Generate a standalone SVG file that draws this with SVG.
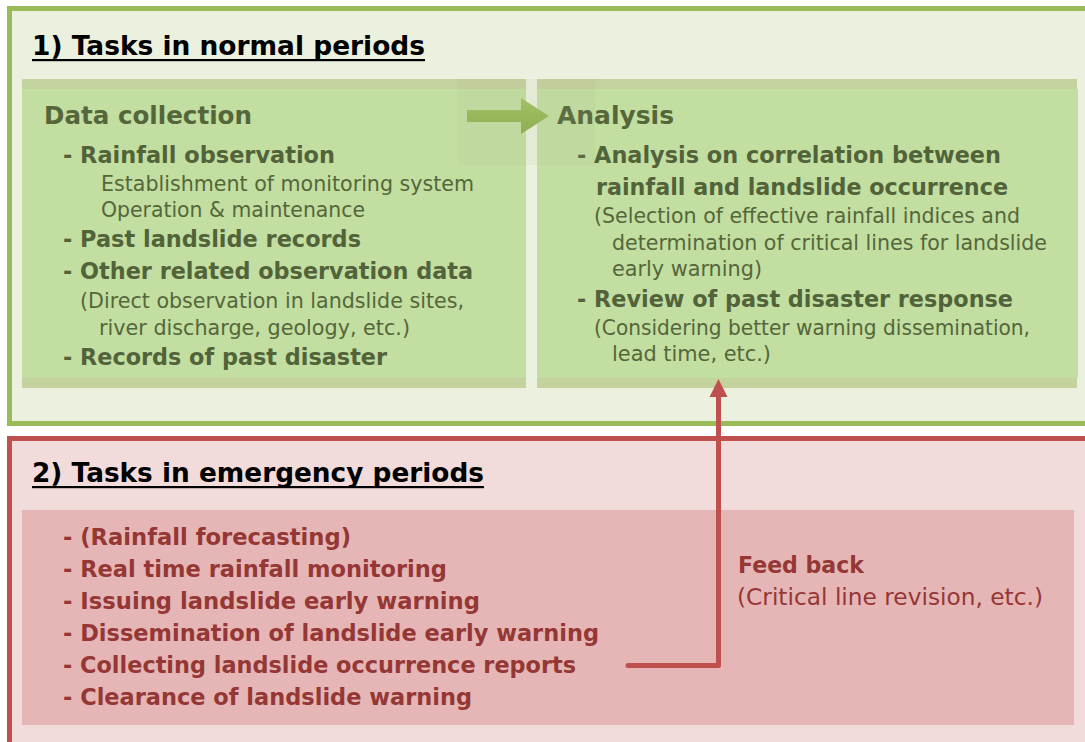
<svg xmlns="http://www.w3.org/2000/svg" width="1085" height="742" viewBox="0 0 1085 742">
  <style>
    text { font-family: "DejaVu Sans", Verdana, sans-serif; }
    .title { font-size: 27px; font-weight: bold; fill: #000000; }
    .head { font-size: 24px; font-weight: bold; fill: #55663a; }
    .gb { font-size: 23px; font-weight: bold; fill: #52633a; }
    .gr { font-size: 21px; fill: #55663a; }
    .rb { font-size: 23px; font-weight: bold; fill: #953735; }
    .rr { font-size: 22.5px; fill: #953735; }
    .strip { fill: #c4d29d; }
    .gbox { fill: #c2dea1; }
  </style>
  <defs>
    <linearGradient id="arrowGrad" x1="0" y1="0" x2="0" y2="1">
      <stop offset="0" stop-color="#a2c064"/>
      <stop offset="1" stop-color="#8fae52"/>
    </linearGradient>
  </defs>

  <rect x="0" y="0" width="1085" height="742" fill="#ffffff"/>

  <!-- Section 1: normal periods -->
  <g id="section-normal">
    <rect x="9.5" y="8.5" width="1090" height="415" fill="#ebf1de" stroke="#9bbb59" stroke-width="5"/>
    <text class="title" x="32" y="55" textLength="393" lengthAdjust="spacingAndGlyphs">1) Tasks in normal periods</text>
    <rect x="32" y="59" width="393" height="2.2" fill="#000000"/>
  </g>

  <g id="node-data-collection">
    <rect class="strip" x="22" y="79" width="504" height="309"/>
    <rect class="gbox" x="22" y="89" width="504" height="289"/>
    <text class="head" x="44" y="124" textLength="208" lengthAdjust="spacingAndGlyphs">Data collection</text>
    <text class="gb" x="63" y="163" textLength="272" lengthAdjust="spacingAndGlyphs">- Rainfall observation</text>
    <text class="gr" x="101" y="191" textLength="373" lengthAdjust="spacingAndGlyphs">Establishment of monitoring system</text>
    <text class="gr" x="101" y="217" textLength="264" lengthAdjust="spacingAndGlyphs">Operation &amp; maintenance</text>
    <text class="gb" x="63" y="247" textLength="298" lengthAdjust="spacingAndGlyphs">- Past landslide records</text>
    <text class="gb" x="63" y="279" textLength="410" lengthAdjust="spacingAndGlyphs">- Other related observation data</text>
    <text class="gr" x="80" y="308" textLength="384" lengthAdjust="spacingAndGlyphs">(Direct observation in landslide sites,</text>
    <text class="gr" x="99" y="335" textLength="311" lengthAdjust="spacingAndGlyphs">river discharge, geology, etc.)</text>
    <text class="gb" x="63" y="365" textLength="324" lengthAdjust="spacingAndGlyphs">- Records of past disaster</text>
  </g>

  <g id="node-analysis">
    <rect class="strip" x="537" y="79" width="540" height="309"/>
    <rect class="gbox" x="537" y="89" width="541" height="289"/>
    <text class="head" x="557" y="124" textLength="117" lengthAdjust="spacingAndGlyphs">Analysis</text>
    <text class="gb" x="577" y="163" textLength="424" lengthAdjust="spacingAndGlyphs">- Analysis on correlation between</text>
    <text class="gb" x="596" y="195" textLength="412" lengthAdjust="spacingAndGlyphs">rainfall and landslide occurrence</text>
    <text class="gr" x="594" y="223" textLength="426" lengthAdjust="spacingAndGlyphs">(Selection of effective rainfall indices and</text>
    <text class="gr" x="612" y="250" textLength="435" lengthAdjust="spacingAndGlyphs">determination of critical lines for landslide</text>
    <text class="gr" x="612" y="276" textLength="150" lengthAdjust="spacingAndGlyphs">early warning)</text>
    <text class="gb" x="577" y="307" textLength="436" lengthAdjust="spacingAndGlyphs">- Review of past disaster response</text>
    <text class="gr" x="594" y="335" textLength="436" lengthAdjust="spacingAndGlyphs">(Considering better warning dissemination,</text>
    <text class="gr" x="612" y="361" textLength="159" lengthAdjust="spacingAndGlyphs">lead time, etc.)</text>
  </g>

  <!-- Section 2: emergency periods -->
  <g id="section-emergency">
    <rect x="9.5" y="438.5" width="1090" height="320" fill="#f2dcdb" stroke="#c0504d" stroke-width="5"/>
    <text class="title" x="32" y="482" textLength="452" lengthAdjust="spacingAndGlyphs">2) Tasks in emergency periods</text>
    <rect x="32" y="486" width="452" height="2.2" fill="#000000"/>
  </g>

  <g id="node-emergency-tasks">
    <rect x="22" y="510" width="1052" height="215" fill="#e5b6b5"/>
    <text class="rb" x="63" y="545" textLength="288" lengthAdjust="spacingAndGlyphs">- (Rainfall forecasting)</text>
    <text class="rb" x="63" y="577" textLength="384" lengthAdjust="spacingAndGlyphs">- Real time rainfall monitoring</text>
    <text class="rb" x="63" y="609" textLength="417" lengthAdjust="spacingAndGlyphs">- Issuing landslide early warning</text>
    <text class="rb" x="63" y="641" textLength="536" lengthAdjust="spacingAndGlyphs">- Dissemination of landslide early warning</text>
    <text class="rb" x="63" y="673" textLength="513" lengthAdjust="spacingAndGlyphs">- Collecting landslide occurrence reports</text>
    <text class="rb" x="63" y="705" textLength="409" lengthAdjust="spacingAndGlyphs">- Clearance of landslide warning</text>
  </g>

  <!-- Connectors -->
  <g id="connectors">
    <g id="arrow-data-to-analysis">
      <rect x="458" y="79" width="137" height="86" fill="#a8ad88" opacity="0.1"/>
      <polygon points="467,110 521,110 521,98 549,116 521,134 521,122 467,122" fill="url(#arrowGrad)"/>
    </g>
    <g id="arrow-feedback">
      <path d="M628,665.5 L718.5,665.5 L718.5,396" fill="none" stroke="#c0504d" stroke-width="5" stroke-linecap="round" stroke-linejoin="round"/>
      <polygon points="718.5,379 727.5,397 709.5,397" fill="#c0504d"/>
    </g>
  </g>

  <g id="label-feedback">
    <text class="rb" x="738" y="573" textLength="126" lengthAdjust="spacingAndGlyphs">Feed back</text>
    <text class="rr" x="737" y="605" textLength="306" lengthAdjust="spacingAndGlyphs">(Critical line revision, etc.)</text>
  </g>
</svg>
